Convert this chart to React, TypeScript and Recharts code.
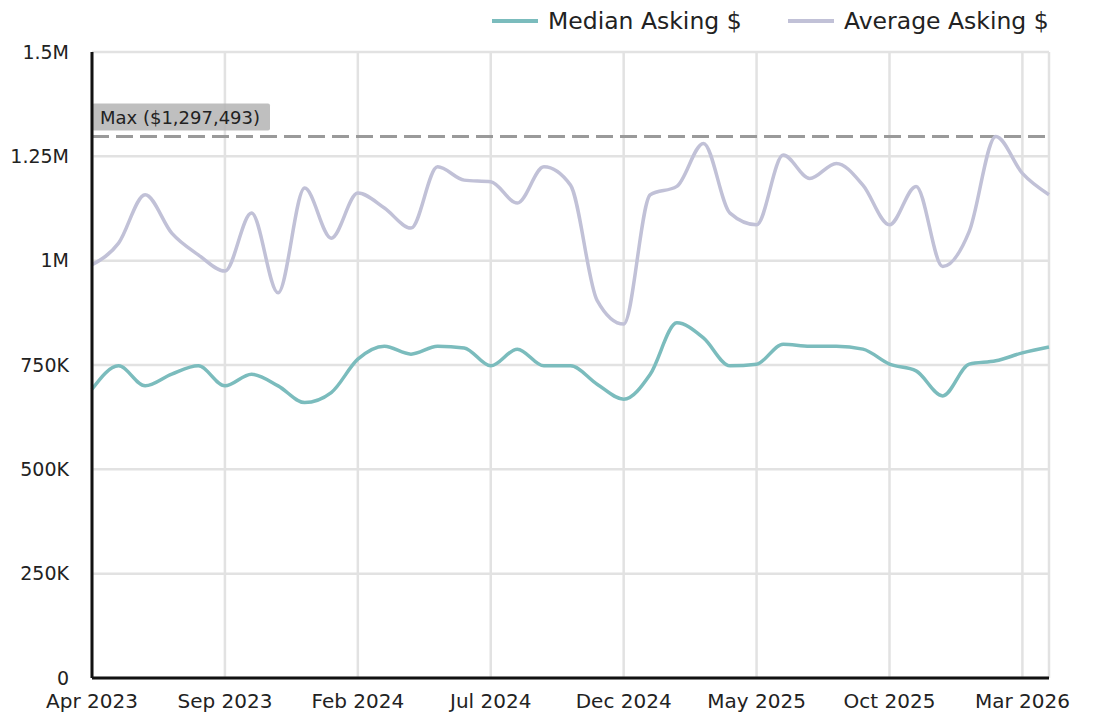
import { LineChart, Line, XAxis, YAxis, CartesianGrid, ReferenceLine } from "recharts";

// Monthly asking prices, Apr 2023 – Apr 2026
const MONTHS = [
  "Apr 2023", "May 2023", "Jun 2023", "Jul 2023", "Aug 2023", "Sep 2023",
  "Oct 2023", "Nov 2023", "Dec 2023", "Jan 2024", "Feb 2024", "Mar 2024",
  "Apr 2024", "May 2024", "Jun 2024", "Jul 2024", "Aug 2024", "Sep 2024",
  "Oct 2024", "Nov 2024", "Dec 2024", "Jan 2025", "Feb 2025", "Mar 2025",
  "Apr 2025", "May 2025", "Jun 2025", "Jul 2025", "Aug 2025", "Sep 2025",
  "Oct 2025", "Nov 2025", "Dec 2025", "Jan 2026", "Feb 2026", "Mar 2026",
  "Apr 2026",
];

const MEDIAN_ASKING = [
  692000, 748000, 700000, 728000, 748000, 700000, 728000, 700000, 660000, 684000,
  764000, 795000, 776000, 795000, 791000, 748000, 788000, 748000, 748000, 704000,
  668000, 728000, 851000, 815000, 748000, 752000, 800000, 795000, 795000, 788000,
  752000, 736000, 676000, 752000, 760000, 779000, 793000,
];

const AVERAGE_ASKING = [
  990000, 1042000, 1158000, 1066000, 1014000, 975000, 1114000, 923000, 1174000, 1054000,
  1162000, 1126000, 1078000, 1225000, 1193000, 1189000, 1138000, 1225000, 1181000, 905000,
  848000, 1158000, 1178000, 1281000, 1114000, 1086000, 1253000, 1197000, 1233000, 1181000,
  1086000, 1178000, 986000, 1070000, 1297493, 1209000, 1158000,
];

const Y_TICKS = [0, 250000, 500000, 750000, 1000000, 1250000, 1500000];
const MAX_AVG = Math.max(...AVERAGE_ASKING);

const MEDIAN_COLOR = "#7bbcbd";
const AVERAGE_COLOR = "#c1c1d7";
const FONT = "'DejaVu Sans', sans-serif";

const data = MONTHS.map((m, i) => ({
  month: m,
  median: MEDIAN_ASKING[i],
  average: AVERAGE_ASKING[i],
}));

function fmtY(v: number): string {
  if (v === 0) return "0";
  if (v >= 1000000) return `${v / 1000000}M`;
  return `${v / 1000}K`;
}

function MaxLabel(props: any) {
  const { viewBox } = props;
  const x = viewBox.x;
  const y = viewBox.y;
  return (
    <g>
      <rect x={x} y={y - 33} width={178} height={27} rx={2} fill="#b4b4b4" fillOpacity={0.85} />
      <text x={x + 8} y={y - 13} fontSize={18} fontFamily={FONT} fill="#222">
        {`Max ($${MAX_AVG.toLocaleString("en-US")})`}
      </text>
    </g>
  );
}

function LegendItem({ color, label, left }: { color: string; label: string; left: number }) {
  return (
    <div style={{ position: "absolute", left, top: 7, display: "flex", alignItems: "center" }}>
      <div style={{ width: 46, height: 4, background: color, marginRight: 10 }} />
      <span style={{ fontSize: 23.5, color: "#222", fontFamily: FONT, lineHeight: "28px" }}>{label}</span>
    </div>
  );
}

export default function App() {
  return (
    <div style={{ position: "absolute", left: 0, top: 0, width: 1099, height: 715, background: "#fff" }}>
      <LegendItem color={MEDIAN_COLOR} label="Median Asking $" left={492} />
      <LegendItem color={AVERAGE_COLOR} label="Average Asking $" left={788} />
      <LineChart width={1099} height={715} data={data} margin={{ top: 52, right: 50, bottom: 7, left: 0 }}>
        <CartesianGrid stroke="#e2e2e2" strokeWidth={2.5} />
        <XAxis
          dataKey="month"
          interval={4}
          height={30}
          tickLine={false}
          tickSize={6}
          tickMargin={10}
          axisLine={{ stroke: "#111", strokeWidth: 3 }}
          tick={{ fontSize: 20, fill: "#222", fontFamily: FONT }}
        />
        <YAxis
          width={92}
          domain={[0, 1500000]}
          ticks={Y_TICKS}
          tickFormatter={fmtY}
          tickLine={false}
          tickSize={6}
          tickMargin={17}
          axisLine={{ stroke: "#111", strokeWidth: 3 }}
          tick={{ fontSize: 19, fill: "#222", fontFamily: FONT }}
        />
        <ReferenceLine
          y={MAX_AVG}
          stroke="#9a9a9a"
          strokeWidth={3}
          strokeDasharray="17 7"
          label={<MaxLabel />}
        />
        <Line
          type="monotone"
          dataKey="median"
          stroke={MEDIAN_COLOR}
          strokeWidth={3.5}
          dot={false}
          isAnimationActive={false}
        />
        <Line
          type="monotone"
          dataKey="average"
          stroke={AVERAGE_COLOR}
          strokeWidth={3.5}
          dot={false}
          isAnimationActive={false}
        />
      </LineChart>
    </div>
  );
}
